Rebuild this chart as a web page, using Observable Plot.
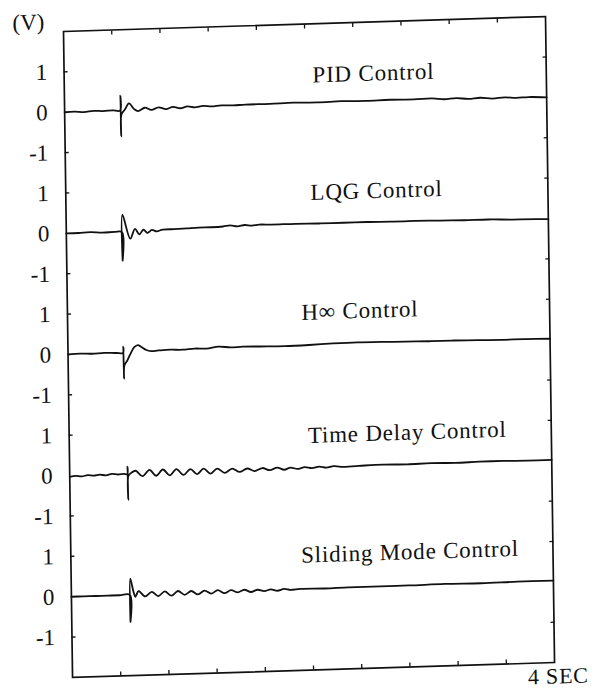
<!DOCTYPE html>
<html>
<head>
<meta charset="utf-8">
<script src="https://cdn.jsdelivr.net/npm/d3@7"></script>
<script src="https://cdn.jsdelivr.net/npm/@observablehq/plot@0.6"></script>
<style>
  html, body { margin: 0; padding: 0; background: #fff; overflow: hidden; }
  #scan { transform: matrix(1, -0.031, 0.014, 1, 0, 0); transform-origin: 63px 31px; width: 596px; }
</style>
</head>
<body>
<div id="scan"></div>
<script>
// ---- data (time in seconds, value in volts) ----
const panelNames = ["PID Control", "LQG Control", "H\u221E Control", "Time Delay Control", "Sliding Mode Control"];
const panelStep = 3;            // volts between stacked panel baselines
const voltTicks = [1, 0, -1];
const voltTickMarks = [1, -1];
const timeTicks = [0.4, 0.8, 1.2, 1.6, 2.0, 2.4, 2.8, 3.2, 3.6];
const timeEnd = 4;
const unitLabel = "(V)";
const timeLabel = "4 SEC";
// label anchor (seconds, volts above its own baseline)
const labelTime = [2.06, 2.03, 1.94, 1.98, 1.91];
const labelVolt = [0.73, 0.82, 0.86, 0.81, 0.85];

const pidTrace = [[0,0],[0.08,0.01],[0.16,-0.01],[0.24,0.01],[0.32,0],[0.40,0.01],[0.46,0],
  [0.464,0.37],[0.467,-0.64],[0.471,-0.1],[0.50,0.02],[0.535,0.17],[0.575,0.03],[0.61,-0.03],[0.665,0.05],
  [0.72,-0.01],[0.78,0.05],[0.84,0],[0.9,0.05],[0.96,0.01],[1.02,0.05],[1.08,0.02],[1.15,0.05],[1.22,0.03],
  [1.3,0.05],[1.4,0.04],[1.5,0.05],[1.7,0.05],[1.9,0.06],[2.1,0.05],[2.3,0.06],[2.5,0.05],[2.7,0.06],
  [2.9,0.05],[3.05,0.06],[3.15,0.03],[3.25,0.05],[3.35,0.02],[3.45,0.04],[3.55,0.01],[3.65,0.03],[3.75,0.01],
  [3.85,0.02],[4,0.0]];

const lqgTrace = [[0,0],[0.1,0],[0.2,0.01],[0.3,-0.01],[0.4,0],[0.462,-0.01],
  [0.464,-0.72],[0.467,0.42],[0.53,-0.18],[0.57,0.06],[0.605,-0.08],[0.64,0.03],[0.675,-0.05],[0.71,0.02],
  [0.75,-0.02],[0.8,0.02],[0.9,0.02],[1.0,0.03],[1.1,0.04],[1.2,0.04],[1.3,0.05],[1.36,0.07],[1.42,0.04],
  [1.48,0.07],[1.54,0.05],[1.6,0.07],[1.7,0.06],[1.9,0.06],[2.1,0.05],[2.3,0.05],[2.5,0.05],[2.7,0.04],
  [2.9,0.04],[3.1,0.03],[3.3,0.02],[3.5,0.02],[3.7,0.0],[3.9,-0.01],[4,-0.02]];

const hinfTrace = [[0,0],[0.1,0.01],[0.2,0],[0.3,0.01],[0.4,0],[0.457,0],
  [0.459,0.15],[0.462,-0.64],[0.466,-0.32],[0.49,-0.2],[0.52,-0.02],[0.55,0.13],[0.58,0.18],[0.61,0.13],
  [0.65,0.05],[0.69,0.02],[0.75,0.03],[0.85,0.04],[0.95,0.03],[1.05,0.05],[1.15,0.04],[1.25,0.08],[1.35,0.05],
  [1.45,0.06],[1.6,0.05],[1.8,0.04],[2.0,0.05],[2.2,0.07],[2.4,0.08],[2.6,0.07],[2.8,0.06],[3.0,0.05],
  [3.2,0.05],[3.4,0.04],[3.6,0.03],[3.8,0.03],[4,0.02]];

const tdcTrace = [[0,-0.03],[0.05,-0.01],[0.1,-0.03],[0.15,0],[0.2,-0.02],[0.25,0],[0.3,-0.02],[0.35,0.01],
  [0.4,-0.01],[0.45,0],[0.478,-0.01],
  [0.48,0.18],[0.483,-0.64],[0.487,-0.05],[0.51,0.02],[0.546,0.07],[0.604,-0.07],[0.662,0.08],[0.717,-0.07],
  [0.773,0.08],[0.83,-0.07],[0.886,0.08],[0.944,-0.07],[1.002,0.07],[1.057,-0.06],[1.112,0.07],[1.168,-0.06],
  [1.224,0.06],[1.286,-0.05],[1.348,0.05],[1.41,-0.04],[1.473,0.04],[1.535,-0.03],[1.598,0.04],[1.66,-0.02],
  [1.722,0.04],[1.78,-0.02],[1.833,0.03],[1.89,-0.01],[1.95,0.03],[2.01,0],[2.07,0.03],[2.13,0],[2.19,0.03],
  [2.25,0.01],[2.4,0.02],[2.6,0.03],[2.8,0.02],[3.0,0.03],[3.2,0.02],[3.4,0.03],[3.6,0.03],[3.8,0.02],[4,0.02]];

const smcTrace = [[0,0],[0.1,0],[0.2,0],[0.3,0],[0.4,0],[0.485,0],
  [0.487,-0.67],[0.49,0.4],[0.515,0.08],[0.53,-0.05],[0.54,0],[0.558,0.09],[0.612,-0.05],[0.667,0.06],
  [0.72,-0.05],[0.775,0.06],[0.83,-0.05],[0.885,0.06],[0.94,-0.04],[0.995,0.05],[1.05,-0.04],[1.105,0.05],
  [1.16,-0.03],[1.215,0.05],[1.27,-0.03],[1.325,0.04],[1.38,-0.02],[1.435,0.04],[1.49,-0.02],[1.545,0.03],
  [1.6,-0.01],[1.655,0.03],[1.71,-0.01],[1.765,0.03],[1.82,0],[1.9,0.02],[2.1,0.01],[2.3,0.02],[2.5,0.02],
  [2.8,0.02],[3.1,0.03],[3.4,0.02],[3.7,0.03],[4,0.03]];

const traces = [pidTrace, lqgTrace, hinfTrace, tdcTrace, smcTrace];

// ---- derived tables ----
const rows = traces.flatMap((tr, i) => tr.map(([t, v]) => ({panel: i, t, y: v - panelStep * i})));
const labelRows = panelNames.map((name, i) => ({name, t: labelTime[i], y: labelVolt[i] - panelStep * i}));
const tickLabelVals = panelNames.flatMap((_, i) => voltTicks.map(v => v - panelStep * i));
const tickMarkVals = panelNames.flatMap((_, i) => voltTickMarks.map(v => v - panelStep * i));
const fmtVolt = d => {
  const r = Math.round(d - panelStep * Math.round(d / panelStep));
  return r < 0 ? "-" + Math.abs(r) : String(r);
};

const ink = "#111";
const font = "Liberation Serif, Times New Roman, serif";

const chart = Plot.plot({
  width: 596,
  height: 710,
  marginLeft: 63,
  marginRight: 51,
  marginTop: 31,
  marginBottom: 33,
  style: {fontFamily: font, color: ink, background: "#fff"},
  x: {domain: [0, timeEnd]},
  y: {domain: [-14, 2]},
  marks: [
    Plot.frame({stroke: ink, strokeWidth: 1.7}),
    Plot.axisX(timeTicks, {anchor: "top", tickSize: 4, insetTop: 4, fill: "none", stroke: ink, strokeWidth: 1.3, label: null}),
    Plot.axisX(timeTicks, {anchor: "bottom", tickSize: 4, insetBottom: 4, fill: "none", stroke: ink, strokeWidth: 1.3, label: null}),
    Plot.axisY(tickMarkVals, {anchor: "left", tickSize: 4, insetLeft: 4, fill: "none", stroke: ink, strokeWidth: 1.3, label: null}),
    Plot.axisY(tickMarkVals, {anchor: "right", tickSize: 4, insetRight: 4, fill: "none", stroke: ink, strokeWidth: 1.3, label: null}),
    Plot.axisY(tickLabelVals, {anchor: "left", tickSize: 0, tickPadding: 17, tickFormat: fmtVolt, fontSize: 23, fill: ink, label: null}),
    Plot.line(rows, {x: "t", y: "y", z: "panel", curve: "catmull-rom", stroke: ink, strokeWidth: 1.8}),
    Plot.text(labelRows, {x: "t", y: "y", text: "name", textAnchor: "start", lineAnchor: "middle", fontSize: 23, fill: ink}),
    Plot.text([unitLabel], {text: d => d, frameAnchor: "top-left", dx: -35, dy: -10, textAnchor: "middle", lineAnchor: "middle", fontSize: 23, fill: ink}),
    Plot.text([timeLabel], {text: d => d, frameAnchor: "bottom-right", dx: 34, dy: 14, textAnchor: "end", lineAnchor: "middle", fontSize: 22, fill: ink})
  ]
});
chart.querySelectorAll("text").forEach(t => { if (t.textContent.length > 3) t.style.letterSpacing = "0.8px"; });
document.getElementById("scan").appendChild(chart);
</script>
</body>
</html>
